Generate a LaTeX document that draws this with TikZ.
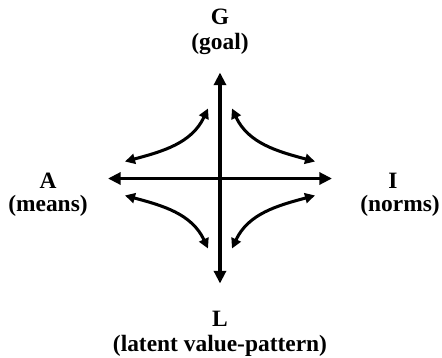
\documentclass[tikz,border=0pt]{standalone}
\usepackage{fontspec}
\setmainfont{Liberation Serif}
\usetikzlibrary{arrows.meta}

\tikzset{
  lbl/.style={font=\bfseries\fontsize{20}{22}\selectfont,anchor=base,inner sep=0pt},
  axis/.style={line width=2.8pt,{Triangle[length=0.38cm,width=0.36cm]}-{Triangle[length=0.38cm,width=0.36cm]}},
  swing/.style={line width=2.6pt,{Triangle[length=0.3cm,width=0.3cm]}-{Triangle[length=0.3cm,width=0.3cm]}}
}

\begin{document}
\begin{tikzpicture}[x=0.03cm,y=0.03cm]
  \useasboundingbox (-220,-178.5) rectangle (222,178.5);
  % labels
  \node[lbl] (G) at (0,153.5) {G};
  \node[lbl] (goal) at (0,129.5) {(goal)};
  \node[lbl] (A) at (-172,-9.5) {A};
  \node[lbl] (means) at (-172,-32.5) {(means)};
  \node[lbl] (I) at (173,-9.5) {I};
  \node[lbl] (norms) at (180,-32.5) {(norms)};
  \node[lbl] (L) at (0,-147.5) {L};
  \node[lbl] (latent) at (0,-172.5) {(latent value-pattern)};
  % axes
  \coordinate (gtip) at (0,106);
  \coordinate (ltip) at (0,-105);
  \coordinate (atip) at (-112,0);
  \coordinate (itip) at (112,0);
  \draw[axis] (atip) -- (itip);
  \draw[axis] (ltip) -- (gtip);
  % curved arrows
  \coordinate (ga) at (-12,70);  \coordinate (ag) at (-95,17);
  \coordinate (gi) at (12,70);   \coordinate (ig) at (95,17);
  \coordinate (la) at (-12,-70); \coordinate (al) at (-95,-17);
  \coordinate (li) at (12,-70);  \coordinate (il) at (95,-17);
  \draw[swing] (ag) to[out=15,in=-115] (ga);
  \draw[swing] (ig) to[out=165,in=-65] (gi);
  \draw[swing] (al) to[out=-15,in=115] (la);
  \draw[swing] (il) to[out=-165,in=65] (li);
\end{tikzpicture}
\end{document}
